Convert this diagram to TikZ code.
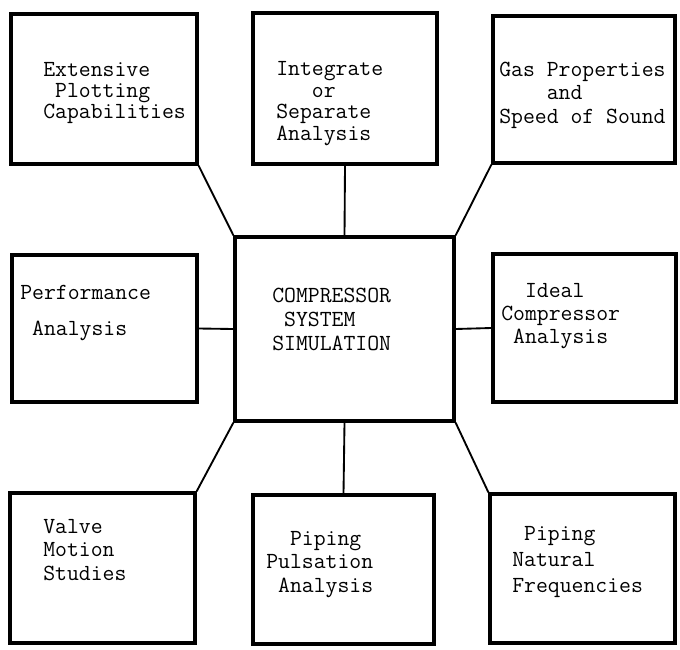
\documentclass[tikz,border=0pt]{standalone}
\usepackage{fontspec}
\usetikzlibrary{positioning}

\begin{document}
\begin{tikzpicture}[
  x=0.75pt, y=-0.75pt,
  box/.style={draw, line width=2.4pt, inner sep=0pt},
  sz/.style 2 args={minimum width=#1*0.75pt, minimum height=#2*0.75pt},
  txt/.style={font={\ttfamily\fontsize{17.3pt}{#1}\selectfont}, align=left, anchor=base west, inner sep=0pt},
  link/.style={line width=1.4pt},
]
\useasboundingbox (0,0) rectangle (680,649);

% ---------------- boxes ----------------
\node[box, sz={186}{150}] (plot)  at (104,89)    {};
\node[box, sz={184}{151}] (integ) at (345,88.5)  {};
\node[box, sz={182}{147}] (gas)   at (584,89.5)  {};
\node[box, sz={185}{147}] (perf)  at (104.5,328.5) {};
\node[box, sz={219}{184}] (sim)   at (344.5,329) {};
\node[box, sz={183}{148}] (ideal) at (584.5,328) {};
\node[box, sz={185}{150}] (valve) at (102.5,568) {};
\node[box, sz={181}{149}] (pulse) at (343.5,569.5) {};
\node[box, sz={185}{149}] (freq)  at (582.5,568.5) {};

% ---------------- texts (anchored on the last line) ----------------
\node[txt=15.75pt] (plot-t)  at (43,118)  {Extensive\\\phantom{C}Plotting\\Capabilities};
\node[txt=16pt]    (integ-t) at (276,140) {Integrate\\\phantom{Int}or\\Separate\\Analysis};
\node[txt=17.6pt]  (gas-t)   at (499,123) {Gas Properties\\\phantom{GasP}and\\Speed of Sound};
\node[txt=27pt]    (perf-t)  at (20,335)  {Performance\\\phantom{P}Analysis};
\node[txt=18pt]    (sim-t)   at (272,350) {COMPRESSOR\\\phantom{C}SYSTEM\\SIMULATION};
\node[txt=17.25pt] (ideal-t) at (501,343) {\phantom{Co}Ideal\\Compressor\\\phantom{C}Analysis};
\node[txt=17.6pt]  (valve-t) at (43,580)  {Valve\\Motion\\Studies};
\node[txt=17.6pt]  (pulse-t) at (266,592) {\phantom{Pu}Piping\\Pulsation\\\phantom{P}Analysis};
\node[txt=19.5pt]  (freq-t)  at (512,592) {\phantom{N}Piping\\Natural\\Frequencies};

% ---------------- links to the hub ----------------
\foreach \a/\b in {plot.south east/sim.north west, integ.south/sim.north,
                   gas.south west/sim.north east, perf.east/sim.west,
                   ideal.west/sim.east, valve.north east/sim.south west,
                   pulse.north/sim.south, freq.north west/sim.south east}
  \draw[link] (\a) -- (\b);
\end{tikzpicture}
\end{document}
